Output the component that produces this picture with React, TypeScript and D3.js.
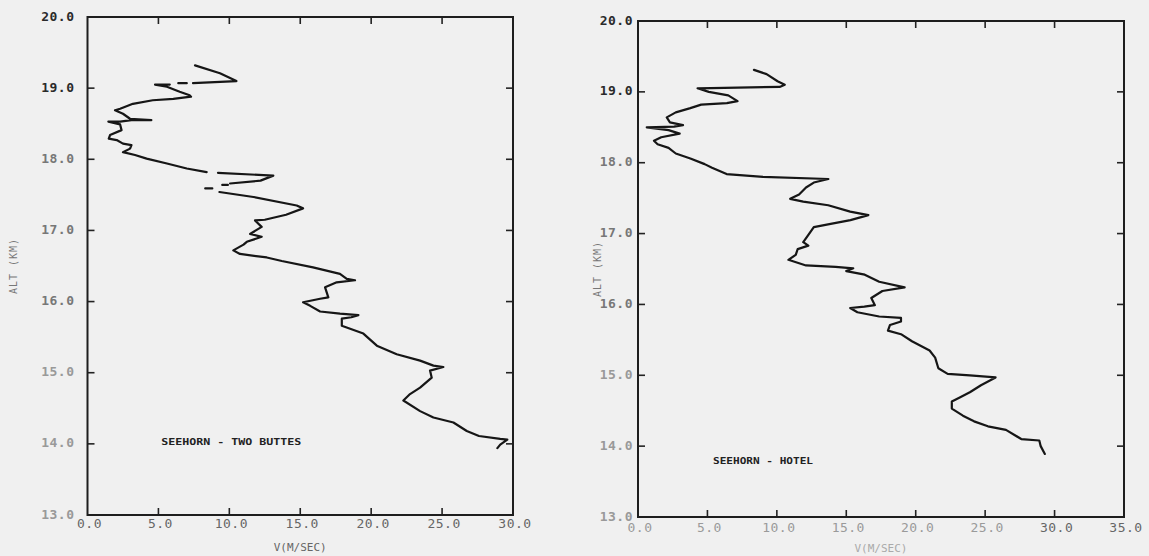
import React from 'react';
import * as d3 from 'd3';

const W = 1149;
const H = 556;

// ---- Data: SEEHORN - TWO BUTTES (left panel), NaN = break in trace
const leftAlt = [
  19.32, 19.21, 19.10, 19.07, NaN, 19.07, 19.07, NaN, 19.05, 19.05, 19.02, 18.95, 18.90, 18.88, 18.85,
  18.83, 18.78, 18.71, 18.69, 18.64, 18.57, 18.55, 18.55, 18.53, 18.53, 18.49, 18.41, 18.34, 18.29,
  18.27, 18.22, 18.20, 18.15, 18.10, 18.06, 18.01, 17.94, 17.87, 17.82, NaN, 17.81, 17.77, 17.70,
  17.66, NaN, 17.64, 17.64, NaN, 17.59, 17.59, NaN, 17.54, 17.47, 17.35, 17.31, 17.22, 17.15, 17.14,
  17.05, 16.95, 16.91, 16.84, 16.80, 16.72, 16.67, 16.62, 16.57, 16.48, 16.39, 16.32, 16.30, 16.27,
  16.20, 16.06, 16.04, 15.99, 15.94, 15.86, 15.83, 15.81, 15.78, 15.76, 15.66, 15.55, 15.38, 15.26,
  15.17, 15.10, 15.08, 15.03, 14.93, 14.79, 14.70, 14.61, 14.46, 14.37, 14.30, 14.18, 14.11, 14.07,
  14.06, 13.99, 13.94,
];
const leftV = [
  7.58, 9.34, 10.5, 7.44, NaN, 7.0, 6.4, NaN, 5.8, 4.76, 5.6, 6.5, 7.2, 7.3, 6.05,
  4.6, 3.2, 2.3, 1.94, 2.5, 3.0, 4.5, 3.1, 2.3, 1.47, 2.3, 2.4, 1.59, 1.5,
  2.06, 2.5, 3.1, 3.0, 2.5, 3.35, 4.17, 5.6, 7.0, 8.4, NaN, 9.2, 13.1, 12.2,
  10.05, NaN, 9.9, 9.5, NaN, 8.8, 8.3, NaN, 9.3, 11.7, 14.75, 15.2, 14.0, 12.5, 11.81,
  12.28, 11.46, 12.28, 11.23, 11.0, 10.28, 10.75, 12.64, 13.7, 15.9, 17.8, 18.28, 18.86, 17.57,
  16.75, 16.98, 16.4, 15.2, 15.7, 16.4, 17.8, 19.1, 18.6, 17.93, 17.93, 19.45, 20.4, 21.8,
  23.45, 24.39, 25.09, 24.15, 24.27, 23.45, 22.74, 22.27, 23.45, 24.39, 25.8, 26.74, 27.6, 29.1,
  29.6, 29.1, 28.9,
];

// ---- Data: SEEHORN - HOTEL (right panel)
const rightAlt = [
  19.31, 19.25, 19.15, 19.10, 19.07, 19.05, 19.00, 18.95, 18.87, 18.84, 18.82, 18.77, 18.71, 18.64,
  18.57, 18.53, 18.51, 18.50, 18.46, 18.41, 18.36, 18.31, 18.26, 18.21, 18.13, 18.06, 17.98, 17.93,
  17.84, 17.80, 17.77, 17.72, 17.65, 17.55, 17.49, 17.45, 17.40, 17.31, 17.26, 17.19, 17.14, 17.09,
  16.98, 16.88, 16.83, 16.78, 16.70, 16.63, 16.55, 16.53, 16.51, 16.47, 16.42, 16.32, 16.24, 16.19,
  16.09, 15.99, 15.97, 15.95, 15.89, 15.83, 15.81, 15.76, 15.71, 15.63, 15.58, 15.48, 15.35, 15.25,
  15.10, 15.02, 15.00, 14.97, 14.86, 14.76, 14.68, 14.63, 14.53, 14.43, 14.35, 14.28, 14.23, 14.10,
  14.08, 14.00, 13.89,
];
const rightV = [
  8.35, 9.26, 10.05, 10.57, 10.2, 4.29, 5.1, 6.5, 7.17, 6.4, 4.55, 3.77, 2.72, 2.07,
  2.3, 3.24, 2.6, 0.63, 2.2, 3.0, 1.67, 1.15, 1.41, 2.2, 2.72, 3.77, 4.8, 5.33,
  6.38, 9.0, 13.71, 12.66, 12.1, 11.6, 10.96, 11.9, 13.7, 15.28, 16.59, 15.3, 13.97, 12.66,
  12.27, 11.9, 12.27, 11.5, 11.36, 10.83, 12.1, 14.23, 15.5, 15.0, 16.33, 17.37, 19.2, 17.6,
  16.8, 17.06, 16.3, 15.28, 15.8, 17.37, 18.94, 18.94, 18.15, 18.0, 18.94, 19.73, 21.0, 21.4,
  21.63, 22.3, 23.9, 25.75, 24.7, 23.9, 23.1, 22.6, 22.6, 23.4, 24.2, 25.2, 26.5, 27.6,
  28.9, 29.0, 29.3,
];

const yTicks = [13, 14, 15, 16, 17, 18, 19, 20];
const leftXTicks = [0, 5, 10, 15, 20, 25, 30];
const rightXTicks = [0, 5, 10, 15, 20, 25, 30, 35];
const leftLabel = 'SEEHORN - TWO BUTTES';
const rightLabel = 'SEEHORN - HOTEL';
const xTitle = 'V(M/SEC)';
const yTitle = 'ALT (KM)';

type PanelProps = {
  alt: number[];
  v: number[];
  xMax: number;
  xTicks: number[];
  left: number;
  right: number;
  top: number;
  bottom: number;
  label: string;
  labelV: number;
  labelAlt: number;
  labelWidth: number;
  yLabelGap: number;
  yTitleX: number;
  xLabelOffset: number;
  xTitleY: number;
  faded: boolean;
};

const MONO = "'DejaVu Sans Mono', monospace";

function Panel(p: PanelProps) {
  const x = d3.scaleLinear().domain([0, p.xMax]).range([p.left, p.right]);
  const y = d3.scaleLinear().domain([13, 20]).range([p.bottom, p.top]);
  const pts = p.alt.map((a, i) => ({ a, v: p.v[i] }));
  const line = d3
    .line<{ a: number; v: number }>()
    .defined((d) => !isNaN(d.a) && !isNaN(d.v))
    .x((d) => x(d.v))
    .y((d) => y(d.a));
  const tl = 7;
  const innerX = p.xTicks.slice(1, -1);
  const innerY = yTicks.slice(1, -1);
  return (
    <g>
      {innerX.map((t) => (
        <g key={'xt' + t} stroke="#222" strokeWidth={1.6}>
          <line x1={x(t)} x2={x(t)} y1={p.bottom} y2={p.bottom - tl} />
          <line x1={x(t)} x2={x(t)} y1={p.top} y2={p.top + tl} />
        </g>
      ))}
      {innerY.map((t) => (
        <g key={'yt' + t} stroke="#222" strokeWidth={1.6}>
          <line x1={p.left} x2={p.left + tl} y1={y(t)} y2={y(t)} />
          <line x1={p.right} x2={p.right - tl} y1={y(t)} y2={y(t)} />
        </g>
      ))}
      <rect
        x={p.left}
        y={p.top}
        width={p.right - p.left}
        height={p.bottom - p.top}
        fill="none"
        stroke="#1e1e1e"
        strokeWidth={2}
      />
      {yTicks.map((t) => (
        <text
          key={'yl' + t}
          x={p.left - p.yLabelGap}
          y={y(t)}
          textAnchor="end"
          dominantBaseline="middle"
          fontFamily={MONO}
          fontWeight="bold"
          fontSize={13}
          letterSpacing={0.5}
          fill={t >= 19 ? '#2a2a2a' : t >= 16 ? '#777' : '#999'}
        >
          {t.toFixed(1)}
        </text>
      ))}
      {p.xTicks.map((t) => (
        <text
          key={'xl' + t}
          x={x(t) + 2}
          y={p.bottom + p.xLabelOffset}
          textAnchor="middle"
          dominantBaseline="middle"
          fontFamily={MONO}
          fontSize={13}
          letterSpacing={0.5}
          fill={p.faded && t < 30 ? '#9a9a9a' : '#666'}
        >
          {t.toFixed(1)}
        </text>
      ))}
      <text
        x={(p.left + p.right) / 2}
        y={p.xTitleY}
        textAnchor="middle"
        dominantBaseline="middle"
        fontFamily={MONO}
        fontSize={11}
        fill={p.faded ? '#aaa' : '#666'}
      >
        {xTitle}
      </text>
      <text
        transform={`translate(${p.yTitleX},${(p.top + p.bottom) / 2}) rotate(-90)`}
        textAnchor="middle"
        dominantBaseline="middle"
        fontFamily={MONO}
        fontSize={10}
        fill="#777"
        letterSpacing={1}
      >
        {yTitle}
      </text>
      <path
        d={line(pts) || ''}
        fill="none"
        stroke="#161616"
        strokeWidth={2.2}
        strokeLinejoin="round"
        strokeLinecap="round"
      />
      <text
        x={x(p.labelV)}
        y={y(p.labelAlt)}
        dominantBaseline="middle"
        fontFamily={MONO}
        fontWeight="bold"
        fontSize={9}
        fill="#222"
        textLength={p.labelWidth}
        lengthAdjust="spacingAndGlyphs"
      >
        {p.label}
      </text>
    </g>
  );
}

export default function App() {
  return (
    <svg
      width={W}
      height={H}
      style={{ position: 'absolute', left: 0, top: 0, display: 'block' }}
    >
      <rect width={W} height={H} fill="#f0f0f0" />
      <Panel
        alt={leftAlt}
        v={leftV}
        xMax={30}
        xTicks={leftXTicks}
        left={87.5}
        right={513}
        top={17}
        bottom={515}
        label={leftLabel}
        labelV={5.2}
        labelAlt={14.02}
        labelWidth={140}
        yLabelGap={13}
        yTitleX={14}
        xLabelOffset={9}
        xTitleY={548}
        faded={false}
      />
      <Panel
        alt={rightAlt}
        v={rightV}
        xMax={35}
        xTicks={rightXTicks}
        left={638}
        right={1124}
        top={21}
        bottom={517}
        label={rightLabel}
        labelV={5.4}
        labelAlt={13.78}
        labelWidth={100}
        yLabelGap={5}
        yTitleX={598}
        xLabelOffset={11}
        xTitleY={549}
        faded={true}
      />
    </svg>
  );
}
